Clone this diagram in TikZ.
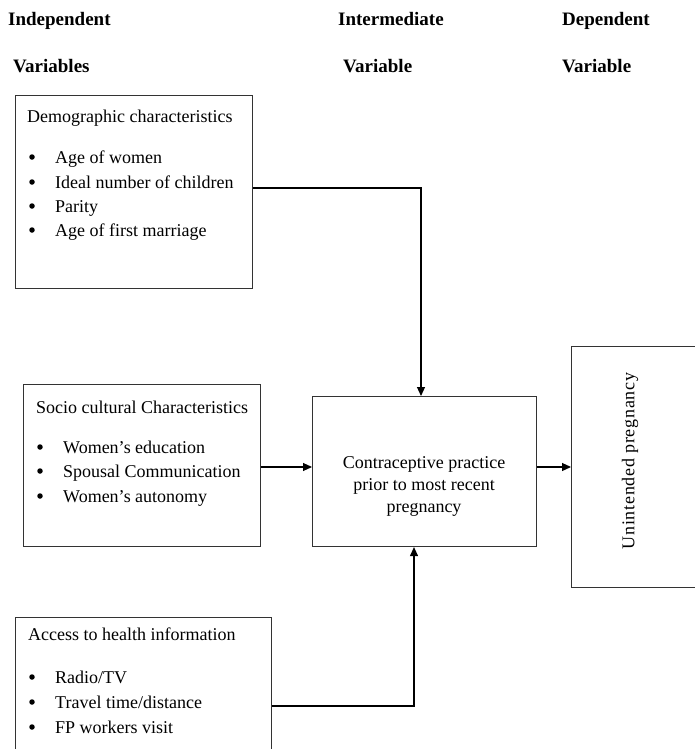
\documentclass[tikz,border=0pt]{standalone}
\usepackage{fontspec}
\setmainfont{Liberation Serif}
\usetikzlibrary{arrows.meta}
\begin{document}
\begin{tikzpicture}[x=1pt,y=-1pt,
  boxnode/.style={draw=black!80,line width=1.1pt,inner sep=0pt,anchor=north west},
  heading/.style={font=\fontsize{19}{22}\selectfont\bfseries,anchor=base west,inner sep=0pt},
  bodytext/.style={font=\fontsize{18}{24}\selectfont,anchor=base west,inner sep=0pt},
  bulletmark/.style={circle,fill=black,inner sep=0pt,minimum size=5.5pt},
  conn/.style={line width=1.1pt,black},
  arrowconn/.style={conn,-{Triangle[length=9pt,width=8pt]}}]
\clip (0,0) rectangle (695,749);
\fill[white] (0,0) rectangle (695,749);

% headings
\node[heading] (h1) at (8,26) {Independent};
\node[heading] (h2) at (13,73) {Variables};
\node[heading] (h3) at (338,26) {Intermediate};
\node[heading] (h4) at (343,73) {Variable};
\node[heading] (h5) at (562,26) {Dependent};
\node[heading] (h6) at (562,73) {Variable};

% boxes
\node[boxnode,minimum width=237pt,minimum height=193pt] (demo) at (15,95) {};
\node[boxnode,minimum width=237pt,minimum height=162pt] (socio) at (23,384) {};
\node[boxnode,minimum width=256pt,minimum height=160pt] (access) at (15,617) {};
\node[boxnode,minimum width=224pt,minimum height=150pt] (contra) at (312,396) {};
\node[boxnode,minimum width=160pt,minimum height=241pt] (unint) at (571,346) {};

% demographic box text
\node[bodytext] (dt) at (27,122) {Demographic characteristics};
\node[bulletmark] (db1) at (32,157) {};
\node[bodytext] (d1) at (55,163) {Age of women};
\node[bulletmark] (db2) at (32,182) {};
\node[bodytext] (d2) at (55,188) {Ideal number of children};
\node[bulletmark] (db3) at (32,206) {};
\node[bodytext] (d3) at (55,212) {Parity};
\node[bulletmark] (db4) at (32,230) {};
\node[bodytext] (d4) at (55,236) {Age of first marriage};

% socio cultural box text
\node[bodytext] (st) at (36,413) {Socio cultural Characteristics};
\node[bulletmark] (sb1) at (40,447) {};
\node[bodytext] (s1) at (63,453) {Women’s education};
\node[bulletmark] (sb2) at (40,471) {};
\node[bodytext] (s2) at (63,477) {Spousal Communication};
\node[bulletmark] (sb3) at (40,496) {};
\node[bodytext] (s3) at (63,502) {Women’s autonomy};

% access box text
\node[bodytext] (at) at (28,640) {Access to health information};
\node[bulletmark] (ab1) at (32,677) {};
\node[bodytext] (a1) at (55,683) {Radio/TV};
\node[bulletmark] (ab2) at (32,702) {};
\node[bodytext] (a2) at (55,708) {Travel time/distance};
\node[bulletmark] (ab3) at (32,727) {};
\node[bodytext] (a3) at (55,733) {FP workers visit};

% central text
\node[font=\fontsize{18}{22}\selectfont,align=center,inner sep=0pt] (ct) at (424,486)
  {Contraceptive practice\\prior to most recent\\pregnancy};

% dependent text
\node[font=\fontsize{18}{22}\selectfont\addfontfeatures{LetterSpace=4},rotate=90,inner sep=0pt] (ut) at (630,461)
  {Unintended pregnancy};

% connectors
\coordinate (c1) at (421,188);
\coordinate (c2) at (414,706);
\draw[arrowconn] (demo.east |- c1) -- (c1) -- (c1 |- contra.north);
\draw[arrowconn] (socio.east |- 0,467) -- (contra.west |- 0,467);
\draw[arrowconn] (contra.east |- 0,467) -- (unint.west |- 0,467);
\draw[arrowconn] (access.east |- c2) -- (c2) -- (c2 |- contra.south);
\end{tikzpicture}
\end{document}
